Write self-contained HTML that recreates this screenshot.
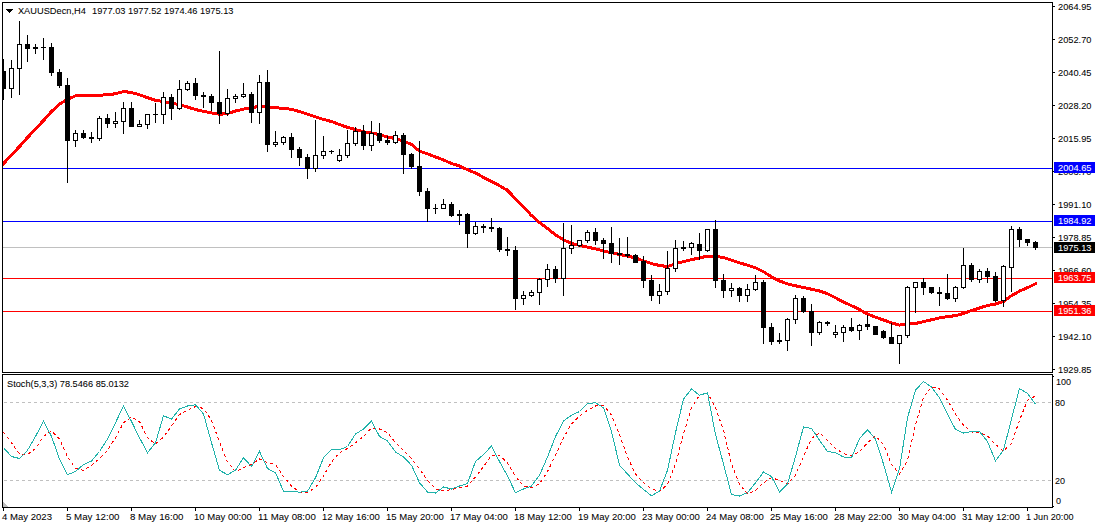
<!DOCTYPE html><html><head><meta charset="utf-8"><title>XAUUSDecn,H4</title><style>
html,body{margin:0;padding:0;background:#fff;}body{width:1098px;height:528px;overflow:hidden;position:relative;font-family:"Liberation Sans",sans-serif;}
svg{position:absolute;left:0;top:0;display:block;}text{font-family:"Liberation Sans",sans-serif;}
</style></head><body>
<svg width="1098" height="528" viewBox="0 0 1098 528">
<rect x="0" y="0" width="1098" height="528" fill="#fff"/>
<defs><clipPath id="cm"><rect x="3" y="3" width="1049" height="369"/></clipPath><clipPath id="cs"><rect x="3" y="375" width="1049" height="132"/></clipPath></defs>
<g shape-rendering="crispEdges">
<g clip-path="url(#cm)">
<rect x="3" y="168" width="1049" height="1" fill="#0000ff"/>
<rect x="3" y="221" width="1049" height="1" fill="#0000ff"/>
<rect x="3" y="247" width="1049" height="1" fill="#c0c0c0"/>
<rect x="3" y="278" width="1049" height="1" fill="#ff0000"/>
<rect x="3" y="311" width="1049" height="1" fill="#ff0000"/>
<rect x="3" y="161" width="1" height="5" fill="#ff0000"/>
<rect x="4" y="160" width="1" height="5" fill="#ff0000"/>
<rect x="5" y="159" width="1" height="5" fill="#ff0000"/>
<rect x="6" y="158" width="1" height="5" fill="#ff0000"/>
<rect x="7" y="157" width="1" height="4" fill="#ff0000"/>
<rect x="8" y="156" width="1" height="4" fill="#ff0000"/>
<rect x="9" y="155" width="1" height="4" fill="#ff0000"/>
<rect x="10" y="154" width="1" height="4" fill="#ff0000"/>
<rect x="11" y="153" width="1" height="4" fill="#ff0000"/>
<rect x="12" y="152" width="1" height="4" fill="#ff0000"/>
<rect x="13" y="151" width="1" height="4" fill="#ff0000"/>
<rect x="14" y="150" width="1" height="4" fill="#ff0000"/>
<rect x="15" y="149" width="1" height="4" fill="#ff0000"/>
<rect x="16" y="147" width="1" height="5" fill="#ff0000"/>
<rect x="17" y="146" width="1" height="5" fill="#ff0000"/>
<rect x="18" y="145" width="1" height="5" fill="#ff0000"/>
<rect x="19" y="144" width="1" height="5" fill="#ff0000"/>
<rect x="20" y="143" width="1" height="5" fill="#ff0000"/>
<rect x="21" y="142" width="1" height="5" fill="#ff0000"/>
<rect x="22" y="141" width="1" height="4" fill="#ff0000"/>
<rect x="23" y="140" width="1" height="4" fill="#ff0000"/>
<rect x="24" y="139" width="1" height="4" fill="#ff0000"/>
<rect x="25" y="137" width="1" height="5" fill="#ff0000"/>
<rect x="26" y="136" width="1" height="5" fill="#ff0000"/>
<rect x="27" y="135" width="1" height="5" fill="#ff0000"/>
<rect x="28" y="134" width="1" height="5" fill="#ff0000"/>
<rect x="29" y="133" width="1" height="5" fill="#ff0000"/>
<rect x="30" y="132" width="1" height="5" fill="#ff0000"/>
<rect x="31" y="131" width="1" height="4" fill="#ff0000"/>
<rect x="32" y="130" width="1" height="4" fill="#ff0000"/>
<rect x="33" y="129" width="1" height="4" fill="#ff0000"/>
<rect x="34" y="128" width="1" height="4" fill="#ff0000"/>
<rect x="35" y="127" width="1" height="4" fill="#ff0000"/>
<rect x="36" y="126" width="1" height="4" fill="#ff0000"/>
<rect x="37" y="125" width="1" height="4" fill="#ff0000"/>
<rect x="38" y="124" width="1" height="4" fill="#ff0000"/>
<rect x="39" y="123" width="1" height="4" fill="#ff0000"/>
<rect x="40" y="121" width="1" height="5" fill="#ff0000"/>
<rect x="41" y="120" width="1" height="5" fill="#ff0000"/>
<rect x="42" y="119" width="1" height="5" fill="#ff0000"/>
<rect x="43" y="118" width="1" height="5" fill="#ff0000"/>
<rect x="44" y="117" width="1" height="5" fill="#ff0000"/>
<rect x="45" y="116" width="1" height="5" fill="#ff0000"/>
<rect x="46" y="115" width="1" height="4" fill="#ff0000"/>
<rect x="47" y="114" width="1" height="4" fill="#ff0000"/>
<rect x="48" y="113" width="1" height="4" fill="#ff0000"/>
<rect x="49" y="111" width="1" height="5" fill="#ff0000"/>
<rect x="50" y="110" width="1" height="5" fill="#ff0000"/>
<rect x="51" y="109" width="1" height="5" fill="#ff0000"/>
<rect x="52" y="109" width="1" height="4" fill="#ff0000"/>
<rect x="53" y="108" width="1" height="4" fill="#ff0000"/>
<rect x="54" y="107" width="1" height="4" fill="#ff0000"/>
<rect x="55" y="106" width="1" height="4" fill="#ff0000"/>
<rect x="56" y="105" width="1" height="4" fill="#ff0000"/>
<rect x="57" y="104" width="1" height="4" fill="#ff0000"/>
<rect x="58" y="103" width="1" height="4" fill="#ff0000"/>
<rect x="59" y="102" width="1" height="4" fill="#ff0000"/>
<rect x="60" y="102" width="1" height="3" fill="#ff0000"/>
<rect x="61" y="101" width="1" height="4" fill="#ff0000"/>
<rect x="62" y="101" width="1" height="3" fill="#ff0000"/>
<rect x="63" y="100" width="1" height="3" fill="#ff0000"/>
<rect x="64" y="99" width="1" height="4" fill="#ff0000"/>
<rect x="65" y="99" width="1" height="3" fill="#ff0000"/>
<rect x="66" y="98" width="1" height="4" fill="#ff0000"/>
<rect x="67" y="98" width="1" height="3" fill="#ff0000"/>
<rect x="68" y="97" width="1" height="4" fill="#ff0000"/>
<rect x="69" y="97" width="1" height="3" fill="#ff0000"/>
<rect x="70" y="96" width="1" height="4" fill="#ff0000"/>
<rect x="71" y="96" width="2" height="3" fill="#ff0000"/>
<rect x="73" y="95" width="2" height="3" fill="#ff0000"/>
<rect x="75" y="94" width="28" height="3" fill="#ff0000"/>
<rect x="103" y="93" width="10" height="3" fill="#ff0000"/>
<rect x="113" y="92" width="1" height="4" fill="#ff0000"/>
<rect x="114" y="92" width="4" height="3" fill="#ff0000"/>
<rect x="118" y="91" width="4" height="3" fill="#ff0000"/>
<rect x="122" y="90" width="5" height="3" fill="#ff0000"/>
<rect x="127" y="90" width="1" height="4" fill="#ff0000"/>
<rect x="128" y="91" width="5" height="3" fill="#ff0000"/>
<rect x="133" y="92" width="4" height="3" fill="#ff0000"/>
<rect x="137" y="93" width="3" height="3" fill="#ff0000"/>
<rect x="140" y="94" width="3" height="3" fill="#ff0000"/>
<rect x="143" y="95" width="2" height="3" fill="#ff0000"/>
<rect x="145" y="95" width="1" height="4" fill="#ff0000"/>
<rect x="146" y="96" width="2" height="3" fill="#ff0000"/>
<rect x="148" y="96" width="1" height="4" fill="#ff0000"/>
<rect x="149" y="97" width="2" height="3" fill="#ff0000"/>
<rect x="151" y="97" width="1" height="4" fill="#ff0000"/>
<rect x="152" y="98" width="2" height="3" fill="#ff0000"/>
<rect x="154" y="98" width="1" height="4" fill="#ff0000"/>
<rect x="155" y="99" width="5" height="3" fill="#ff0000"/>
<rect x="160" y="100" width="6" height="3" fill="#ff0000"/>
<rect x="166" y="101" width="5" height="3" fill="#ff0000"/>
<rect x="171" y="101" width="1" height="4" fill="#ff0000"/>
<rect x="172" y="102" width="4" height="3" fill="#ff0000"/>
<rect x="176" y="103" width="4" height="3" fill="#ff0000"/>
<rect x="180" y="103" width="1" height="4" fill="#ff0000"/>
<rect x="181" y="104" width="3" height="3" fill="#ff0000"/>
<rect x="184" y="105" width="3" height="3" fill="#ff0000"/>
<rect x="187" y="105" width="1" height="4" fill="#ff0000"/>
<rect x="188" y="106" width="2" height="3" fill="#ff0000"/>
<rect x="190" y="106" width="1" height="4" fill="#ff0000"/>
<rect x="191" y="107" width="3" height="3" fill="#ff0000"/>
<rect x="194" y="108" width="3" height="3" fill="#ff0000"/>
<rect x="197" y="108" width="1" height="4" fill="#ff0000"/>
<rect x="198" y="109" width="4" height="3" fill="#ff0000"/>
<rect x="202" y="110" width="5" height="3" fill="#ff0000"/>
<rect x="207" y="111" width="5" height="3" fill="#ff0000"/>
<rect x="212" y="112" width="6" height="3" fill="#ff0000"/>
<rect x="218" y="113" width="4" height="3" fill="#ff0000"/>
<rect x="222" y="112" width="1" height="4" fill="#ff0000"/>
<rect x="223" y="112" width="6" height="3" fill="#ff0000"/>
<rect x="229" y="111" width="3" height="3" fill="#ff0000"/>
<rect x="232" y="110" width="1" height="4" fill="#ff0000"/>
<rect x="233" y="110" width="2" height="3" fill="#ff0000"/>
<rect x="235" y="109" width="1" height="4" fill="#ff0000"/>
<rect x="236" y="109" width="4" height="3" fill="#ff0000"/>
<rect x="240" y="108" width="4" height="3" fill="#ff0000"/>
<rect x="244" y="107" width="5" height="3" fill="#ff0000"/>
<rect x="249" y="106" width="6" height="3" fill="#ff0000"/>
<rect x="255" y="105" width="1" height="4" fill="#ff0000"/>
<rect x="256" y="105" width="11" height="3" fill="#ff0000"/>
<rect x="267" y="105" width="1" height="4" fill="#ff0000"/>
<rect x="268" y="106" width="11" height="3" fill="#ff0000"/>
<rect x="279" y="107" width="10" height="3" fill="#ff0000"/>
<rect x="289" y="108" width="5" height="3" fill="#ff0000"/>
<rect x="294" y="109" width="3" height="3" fill="#ff0000"/>
<rect x="297" y="109" width="1" height="4" fill="#ff0000"/>
<rect x="298" y="110" width="3" height="3" fill="#ff0000"/>
<rect x="301" y="111" width="3" height="3" fill="#ff0000"/>
<rect x="304" y="112" width="3" height="3" fill="#ff0000"/>
<rect x="307" y="113" width="3" height="3" fill="#ff0000"/>
<rect x="310" y="114" width="3" height="3" fill="#ff0000"/>
<rect x="313" y="115" width="3" height="3" fill="#ff0000"/>
<rect x="316" y="116" width="3" height="3" fill="#ff0000"/>
<rect x="319" y="117" width="3" height="3" fill="#ff0000"/>
<rect x="322" y="118" width="4" height="3" fill="#ff0000"/>
<rect x="326" y="119" width="3" height="3" fill="#ff0000"/>
<rect x="329" y="119" width="1" height="4" fill="#ff0000"/>
<rect x="330" y="120" width="3" height="3" fill="#ff0000"/>
<rect x="333" y="121" width="2" height="3" fill="#ff0000"/>
<rect x="335" y="121" width="1" height="4" fill="#ff0000"/>
<rect x="336" y="122" width="2" height="3" fill="#ff0000"/>
<rect x="338" y="123" width="3" height="3" fill="#ff0000"/>
<rect x="341" y="124" width="2" height="3" fill="#ff0000"/>
<rect x="343" y="124" width="1" height="4" fill="#ff0000"/>
<rect x="344" y="125" width="2" height="3" fill="#ff0000"/>
<rect x="346" y="125" width="1" height="4" fill="#ff0000"/>
<rect x="347" y="126" width="3" height="3" fill="#ff0000"/>
<rect x="350" y="127" width="3" height="3" fill="#ff0000"/>
<rect x="353" y="127" width="1" height="4" fill="#ff0000"/>
<rect x="354" y="128" width="3" height="3" fill="#ff0000"/>
<rect x="357" y="129" width="4" height="3" fill="#ff0000"/>
<rect x="361" y="130" width="4" height="3" fill="#ff0000"/>
<rect x="365" y="131" width="7" height="3" fill="#ff0000"/>
<rect x="372" y="132" width="4" height="3" fill="#ff0000"/>
<rect x="376" y="132" width="1" height="4" fill="#ff0000"/>
<rect x="377" y="133" width="3" height="3" fill="#ff0000"/>
<rect x="380" y="133" width="1" height="4" fill="#ff0000"/>
<rect x="381" y="134" width="3" height="3" fill="#ff0000"/>
<rect x="384" y="135" width="4" height="3" fill="#ff0000"/>
<rect x="388" y="136" width="4" height="3" fill="#ff0000"/>
<rect x="392" y="136" width="1" height="4" fill="#ff0000"/>
<rect x="393" y="137" width="3" height="3" fill="#ff0000"/>
<rect x="396" y="137" width="1" height="4" fill="#ff0000"/>
<rect x="397" y="138" width="3" height="3" fill="#ff0000"/>
<rect x="400" y="139" width="3" height="3" fill="#ff0000"/>
<rect x="403" y="139" width="1" height="4" fill="#ff0000"/>
<rect x="404" y="140" width="2" height="3" fill="#ff0000"/>
<rect x="406" y="141" width="2" height="3" fill="#ff0000"/>
<rect x="408" y="142" width="2" height="3" fill="#ff0000"/>
<rect x="410" y="142" width="1" height="4" fill="#ff0000"/>
<rect x="411" y="143" width="1" height="3" fill="#ff0000"/>
<rect x="412" y="143" width="1" height="4" fill="#ff0000"/>
<rect x="413" y="144" width="1" height="4" fill="#ff0000"/>
<rect x="414" y="145" width="1" height="4" fill="#ff0000"/>
<rect x="415" y="146" width="1" height="4" fill="#ff0000"/>
<rect x="416" y="147" width="1" height="4" fill="#ff0000"/>
<rect x="417" y="148" width="1" height="3" fill="#ff0000"/>
<rect x="418" y="148" width="1" height="4" fill="#ff0000"/>
<rect x="419" y="150" width="3" height="3" fill="#ff0000"/>
<rect x="422" y="151" width="3" height="3" fill="#ff0000"/>
<rect x="425" y="152" width="3" height="3" fill="#ff0000"/>
<rect x="428" y="153" width="2" height="3" fill="#ff0000"/>
<rect x="430" y="153" width="1" height="4" fill="#ff0000"/>
<rect x="431" y="154" width="2" height="3" fill="#ff0000"/>
<rect x="433" y="155" width="2" height="3" fill="#ff0000"/>
<rect x="435" y="155" width="1" height="4" fill="#ff0000"/>
<rect x="436" y="156" width="2" height="3" fill="#ff0000"/>
<rect x="438" y="156" width="1" height="4" fill="#ff0000"/>
<rect x="439" y="157" width="2" height="3" fill="#ff0000"/>
<rect x="441" y="158" width="2" height="3" fill="#ff0000"/>
<rect x="443" y="158" width="1" height="4" fill="#ff0000"/>
<rect x="444" y="159" width="2" height="3" fill="#ff0000"/>
<rect x="446" y="160" width="2" height="3" fill="#ff0000"/>
<rect x="448" y="161" width="2" height="3" fill="#ff0000"/>
<rect x="450" y="161" width="1" height="4" fill="#ff0000"/>
<rect x="451" y="162" width="2" height="3" fill="#ff0000"/>
<rect x="453" y="163" width="3" height="3" fill="#ff0000"/>
<rect x="456" y="163" width="1" height="4" fill="#ff0000"/>
<rect x="457" y="164" width="2" height="3" fill="#ff0000"/>
<rect x="459" y="164" width="1" height="4" fill="#ff0000"/>
<rect x="460" y="165" width="1" height="3" fill="#ff0000"/>
<rect x="461" y="165" width="1" height="4" fill="#ff0000"/>
<rect x="462" y="166" width="1" height="3" fill="#ff0000"/>
<rect x="463" y="166" width="1" height="4" fill="#ff0000"/>
<rect x="464" y="167" width="2" height="3" fill="#ff0000"/>
<rect x="466" y="168" width="2" height="3" fill="#ff0000"/>
<rect x="468" y="168" width="1" height="4" fill="#ff0000"/>
<rect x="469" y="169" width="1" height="3" fill="#ff0000"/>
<rect x="470" y="169" width="1" height="4" fill="#ff0000"/>
<rect x="471" y="170" width="2" height="3" fill="#ff0000"/>
<rect x="473" y="171" width="2" height="3" fill="#ff0000"/>
<rect x="475" y="171" width="1" height="4" fill="#ff0000"/>
<rect x="476" y="172" width="1" height="3" fill="#ff0000"/>
<rect x="477" y="172" width="1" height="4" fill="#ff0000"/>
<rect x="478" y="173" width="1" height="3" fill="#ff0000"/>
<rect x="479" y="173" width="1" height="4" fill="#ff0000"/>
<rect x="480" y="174" width="1" height="3" fill="#ff0000"/>
<rect x="481" y="175" width="1" height="3" fill="#ff0000"/>
<rect x="482" y="175" width="1" height="4" fill="#ff0000"/>
<rect x="483" y="176" width="1" height="3" fill="#ff0000"/>
<rect x="484" y="176" width="1" height="4" fill="#ff0000"/>
<rect x="485" y="177" width="1" height="3" fill="#ff0000"/>
<rect x="486" y="177" width="1" height="4" fill="#ff0000"/>
<rect x="487" y="178" width="1" height="3" fill="#ff0000"/>
<rect x="488" y="178" width="1" height="4" fill="#ff0000"/>
<rect x="489" y="179" width="1" height="3" fill="#ff0000"/>
<rect x="490" y="179" width="1" height="4" fill="#ff0000"/>
<rect x="491" y="180" width="1" height="3" fill="#ff0000"/>
<rect x="492" y="180" width="1" height="4" fill="#ff0000"/>
<rect x="493" y="181" width="1" height="3" fill="#ff0000"/>
<rect x="494" y="181" width="1" height="4" fill="#ff0000"/>
<rect x="495" y="182" width="1" height="3" fill="#ff0000"/>
<rect x="496" y="182" width="1" height="4" fill="#ff0000"/>
<rect x="497" y="183" width="1" height="3" fill="#ff0000"/>
<rect x="498" y="183" width="1" height="4" fill="#ff0000"/>
<rect x="499" y="184" width="1" height="3" fill="#ff0000"/>
<rect x="500" y="185" width="1" height="3" fill="#ff0000"/>
<rect x="501" y="185" width="1" height="4" fill="#ff0000"/>
<rect x="502" y="186" width="1" height="3" fill="#ff0000"/>
<rect x="503" y="186" width="1" height="4" fill="#ff0000"/>
<rect x="504" y="187" width="1" height="3" fill="#ff0000"/>
<rect x="505" y="188" width="1" height="3" fill="#ff0000"/>
<rect x="506" y="188" width="1" height="4" fill="#ff0000"/>
<rect x="507" y="188" width="1" height="5" fill="#ff0000"/>
<rect x="508" y="189" width="1" height="5" fill="#ff0000"/>
<rect x="509" y="190" width="1" height="5" fill="#ff0000"/>
<rect x="510" y="191" width="1" height="5" fill="#ff0000"/>
<rect x="511" y="192" width="1" height="5" fill="#ff0000"/>
<rect x="512" y="193" width="1" height="5" fill="#ff0000"/>
<rect x="513" y="195" width="1" height="4" fill="#ff0000"/>
<rect x="514" y="196" width="1" height="4" fill="#ff0000"/>
<rect x="515" y="197" width="1" height="4" fill="#ff0000"/>
<rect x="516" y="198" width="1" height="4" fill="#ff0000"/>
<rect x="517" y="199" width="1" height="4" fill="#ff0000"/>
<rect x="518" y="200" width="1" height="4" fill="#ff0000"/>
<rect x="519" y="201" width="1" height="4" fill="#ff0000"/>
<rect x="520" y="202" width="1" height="4" fill="#ff0000"/>
<rect x="521" y="203" width="1" height="4" fill="#ff0000"/>
<rect x="522" y="204" width="1" height="4" fill="#ff0000"/>
<rect x="523" y="205" width="1" height="4" fill="#ff0000"/>
<rect x="524" y="206" width="1" height="4" fill="#ff0000"/>
<rect x="525" y="207" width="1" height="4" fill="#ff0000"/>
<rect x="526" y="208" width="1" height="4" fill="#ff0000"/>
<rect x="527" y="209" width="1" height="4" fill="#ff0000"/>
<rect x="528" y="210" width="1" height="4" fill="#ff0000"/>
<rect x="529" y="211" width="1" height="5" fill="#ff0000"/>
<rect x="530" y="212" width="1" height="5" fill="#ff0000"/>
<rect x="531" y="214" width="1" height="3" fill="#ff0000"/>
<rect x="532" y="214" width="1" height="4" fill="#ff0000"/>
<rect x="533" y="215" width="1" height="4" fill="#ff0000"/>
<rect x="534" y="216" width="1" height="4" fill="#ff0000"/>
<rect x="535" y="217" width="1" height="4" fill="#ff0000"/>
<rect x="536" y="218" width="1" height="4" fill="#ff0000"/>
<rect x="537" y="219" width="1" height="4" fill="#ff0000"/>
<rect x="538" y="220" width="1" height="4" fill="#ff0000"/>
<rect x="539" y="221" width="1" height="3" fill="#ff0000"/>
<rect x="540" y="221" width="1" height="4" fill="#ff0000"/>
<rect x="541" y="222" width="1" height="4" fill="#ff0000"/>
<rect x="542" y="223" width="1" height="4" fill="#ff0000"/>
<rect x="543" y="224" width="1" height="3" fill="#ff0000"/>
<rect x="544" y="224" width="1" height="4" fill="#ff0000"/>
<rect x="545" y="225" width="1" height="4" fill="#ff0000"/>
<rect x="546" y="226" width="1" height="4" fill="#ff0000"/>
<rect x="547" y="227" width="1" height="3" fill="#ff0000"/>
<rect x="548" y="227" width="1" height="4" fill="#ff0000"/>
<rect x="549" y="228" width="1" height="4" fill="#ff0000"/>
<rect x="550" y="229" width="1" height="4" fill="#ff0000"/>
<rect x="551" y="230" width="1" height="4" fill="#ff0000"/>
<rect x="552" y="231" width="1" height="3" fill="#ff0000"/>
<rect x="553" y="231" width="1" height="4" fill="#ff0000"/>
<rect x="554" y="232" width="1" height="4" fill="#ff0000"/>
<rect x="555" y="233" width="1" height="4" fill="#ff0000"/>
<rect x="556" y="234" width="1" height="3" fill="#ff0000"/>
<rect x="557" y="234" width="1" height="4" fill="#ff0000"/>
<rect x="558" y="235" width="1" height="3" fill="#ff0000"/>
<rect x="559" y="236" width="1" height="3" fill="#ff0000"/>
<rect x="560" y="236" width="1" height="4" fill="#ff0000"/>
<rect x="561" y="237" width="1" height="3" fill="#ff0000"/>
<rect x="562" y="237" width="1" height="4" fill="#ff0000"/>
<rect x="563" y="238" width="1" height="3" fill="#ff0000"/>
<rect x="564" y="239" width="2" height="3" fill="#ff0000"/>
<rect x="566" y="240" width="2" height="3" fill="#ff0000"/>
<rect x="568" y="240" width="1" height="4" fill="#ff0000"/>
<rect x="569" y="241" width="1" height="3" fill="#ff0000"/>
<rect x="570" y="241" width="1" height="4" fill="#ff0000"/>
<rect x="571" y="242" width="3" height="3" fill="#ff0000"/>
<rect x="574" y="243" width="4" height="3" fill="#ff0000"/>
<rect x="578" y="244" width="4" height="3" fill="#ff0000"/>
<rect x="582" y="244" width="1" height="4" fill="#ff0000"/>
<rect x="583" y="245" width="4" height="3" fill="#ff0000"/>
<rect x="587" y="246" width="4" height="3" fill="#ff0000"/>
<rect x="591" y="246" width="1" height="4" fill="#ff0000"/>
<rect x="592" y="247" width="4" height="3" fill="#ff0000"/>
<rect x="596" y="248" width="4" height="3" fill="#ff0000"/>
<rect x="600" y="249" width="4" height="3" fill="#ff0000"/>
<rect x="604" y="250" width="4" height="3" fill="#ff0000"/>
<rect x="608" y="251" width="5" height="3" fill="#ff0000"/>
<rect x="613" y="252" width="4" height="3" fill="#ff0000"/>
<rect x="617" y="252" width="1" height="4" fill="#ff0000"/>
<rect x="618" y="253" width="4" height="3" fill="#ff0000"/>
<rect x="622" y="253" width="1" height="4" fill="#ff0000"/>
<rect x="623" y="254" width="4" height="3" fill="#ff0000"/>
<rect x="627" y="254" width="1" height="4" fill="#ff0000"/>
<rect x="628" y="255" width="3" height="3" fill="#ff0000"/>
<rect x="631" y="255" width="1" height="4" fill="#ff0000"/>
<rect x="632" y="256" width="3" height="3" fill="#ff0000"/>
<rect x="635" y="256" width="1" height="4" fill="#ff0000"/>
<rect x="636" y="257" width="2" height="3" fill="#ff0000"/>
<rect x="638" y="257" width="1" height="4" fill="#ff0000"/>
<rect x="639" y="258" width="2" height="3" fill="#ff0000"/>
<rect x="641" y="259" width="3" height="3" fill="#ff0000"/>
<rect x="644" y="260" width="3" height="3" fill="#ff0000"/>
<rect x="647" y="261" width="3" height="3" fill="#ff0000"/>
<rect x="650" y="262" width="3" height="3" fill="#ff0000"/>
<rect x="653" y="263" width="4" height="3" fill="#ff0000"/>
<rect x="657" y="263" width="1" height="4" fill="#ff0000"/>
<rect x="658" y="264" width="5" height="3" fill="#ff0000"/>
<rect x="663" y="264" width="1" height="4" fill="#ff0000"/>
<rect x="664" y="265" width="5" height="3" fill="#ff0000"/>
<rect x="669" y="264" width="3" height="3" fill="#ff0000"/>
<rect x="672" y="263" width="3" height="3" fill="#ff0000"/>
<rect x="675" y="262" width="3" height="3" fill="#ff0000"/>
<rect x="678" y="261" width="4" height="3" fill="#ff0000"/>
<rect x="682" y="260" width="4" height="3" fill="#ff0000"/>
<rect x="686" y="259" width="4" height="3" fill="#ff0000"/>
<rect x="690" y="258" width="4" height="3" fill="#ff0000"/>
<rect x="694" y="257" width="1" height="4" fill="#ff0000"/>
<rect x="695" y="257" width="4" height="3" fill="#ff0000"/>
<rect x="699" y="256" width="4" height="3" fill="#ff0000"/>
<rect x="703" y="255" width="1" height="4" fill="#ff0000"/>
<rect x="704" y="255" width="16" height="3" fill="#ff0000"/>
<rect x="720" y="256" width="5" height="3" fill="#ff0000"/>
<rect x="725" y="257" width="3" height="3" fill="#ff0000"/>
<rect x="728" y="258" width="3" height="3" fill="#ff0000"/>
<rect x="731" y="259" width="3" height="3" fill="#ff0000"/>
<rect x="734" y="260" width="3" height="3" fill="#ff0000"/>
<rect x="737" y="261" width="3" height="3" fill="#ff0000"/>
<rect x="740" y="262" width="3" height="3" fill="#ff0000"/>
<rect x="743" y="262" width="1" height="4" fill="#ff0000"/>
<rect x="744" y="263" width="3" height="3" fill="#ff0000"/>
<rect x="747" y="264" width="3" height="3" fill="#ff0000"/>
<rect x="750" y="265" width="3" height="3" fill="#ff0000"/>
<rect x="753" y="266" width="3" height="3" fill="#ff0000"/>
<rect x="756" y="267" width="2" height="3" fill="#ff0000"/>
<rect x="758" y="268" width="2" height="3" fill="#ff0000"/>
<rect x="760" y="269" width="2" height="3" fill="#ff0000"/>
<rect x="762" y="270" width="2" height="3" fill="#ff0000"/>
<rect x="764" y="271" width="1" height="3" fill="#ff0000"/>
<rect x="765" y="271" width="1" height="4" fill="#ff0000"/>
<rect x="766" y="272" width="1" height="3" fill="#ff0000"/>
<rect x="767" y="273" width="1" height="3" fill="#ff0000"/>
<rect x="768" y="273" width="1" height="4" fill="#ff0000"/>
<rect x="769" y="274" width="1" height="3" fill="#ff0000"/>
<rect x="770" y="274" width="1" height="4" fill="#ff0000"/>
<rect x="771" y="275" width="1" height="4" fill="#ff0000"/>
<rect x="772" y="276" width="1" height="3" fill="#ff0000"/>
<rect x="773" y="276" width="1" height="4" fill="#ff0000"/>
<rect x="774" y="277" width="1" height="3" fill="#ff0000"/>
<rect x="775" y="277" width="1" height="4" fill="#ff0000"/>
<rect x="776" y="278" width="1" height="3" fill="#ff0000"/>
<rect x="777" y="278" width="1" height="4" fill="#ff0000"/>
<rect x="778" y="279" width="1" height="3" fill="#ff0000"/>
<rect x="779" y="279" width="1" height="4" fill="#ff0000"/>
<rect x="780" y="280" width="2" height="3" fill="#ff0000"/>
<rect x="782" y="280" width="1" height="4" fill="#ff0000"/>
<rect x="783" y="281" width="2" height="3" fill="#ff0000"/>
<rect x="785" y="282" width="3" height="3" fill="#ff0000"/>
<rect x="788" y="283" width="4" height="3" fill="#ff0000"/>
<rect x="792" y="284" width="4" height="3" fill="#ff0000"/>
<rect x="796" y="284" width="1" height="4" fill="#ff0000"/>
<rect x="797" y="285" width="4" height="3" fill="#ff0000"/>
<rect x="801" y="286" width="5" height="3" fill="#ff0000"/>
<rect x="806" y="287" width="4" height="3" fill="#ff0000"/>
<rect x="810" y="287" width="1" height="4" fill="#ff0000"/>
<rect x="811" y="288" width="4" height="3" fill="#ff0000"/>
<rect x="815" y="289" width="4" height="3" fill="#ff0000"/>
<rect x="819" y="289" width="1" height="4" fill="#ff0000"/>
<rect x="820" y="290" width="2" height="3" fill="#ff0000"/>
<rect x="822" y="290" width="1" height="4" fill="#ff0000"/>
<rect x="823" y="291" width="2" height="3" fill="#ff0000"/>
<rect x="825" y="291" width="1" height="4" fill="#ff0000"/>
<rect x="826" y="292" width="2" height="3" fill="#ff0000"/>
<rect x="828" y="293" width="2" height="3" fill="#ff0000"/>
<rect x="830" y="294" width="2" height="3" fill="#ff0000"/>
<rect x="832" y="295" width="2" height="3" fill="#ff0000"/>
<rect x="834" y="296" width="2" height="3" fill="#ff0000"/>
<rect x="836" y="297" width="1" height="3" fill="#ff0000"/>
<rect x="837" y="297" width="1" height="4" fill="#ff0000"/>
<rect x="838" y="298" width="1" height="3" fill="#ff0000"/>
<rect x="839" y="298" width="1" height="4" fill="#ff0000"/>
<rect x="840" y="299" width="1" height="3" fill="#ff0000"/>
<rect x="841" y="299" width="1" height="4" fill="#ff0000"/>
<rect x="842" y="300" width="1" height="3" fill="#ff0000"/>
<rect x="843" y="300" width="1" height="4" fill="#ff0000"/>
<rect x="844" y="301" width="1" height="3" fill="#ff0000"/>
<rect x="845" y="301" width="1" height="4" fill="#ff0000"/>
<rect x="846" y="302" width="2" height="3" fill="#ff0000"/>
<rect x="848" y="303" width="2" height="3" fill="#ff0000"/>
<rect x="850" y="304" width="2" height="3" fill="#ff0000"/>
<rect x="852" y="305" width="2" height="3" fill="#ff0000"/>
<rect x="854" y="305" width="1" height="4" fill="#ff0000"/>
<rect x="855" y="306" width="1" height="3" fill="#ff0000"/>
<rect x="856" y="306" width="1" height="4" fill="#ff0000"/>
<rect x="857" y="307" width="1" height="3" fill="#ff0000"/>
<rect x="858" y="307" width="1" height="4" fill="#ff0000"/>
<rect x="859" y="308" width="1" height="3" fill="#ff0000"/>
<rect x="860" y="308" width="1" height="4" fill="#ff0000"/>
<rect x="861" y="309" width="1" height="3" fill="#ff0000"/>
<rect x="862" y="310" width="1" height="3" fill="#ff0000"/>
<rect x="863" y="310" width="1" height="4" fill="#ff0000"/>
<rect x="864" y="311" width="1" height="3" fill="#ff0000"/>
<rect x="865" y="311" width="1" height="4" fill="#ff0000"/>
<rect x="866" y="312" width="1" height="3" fill="#ff0000"/>
<rect x="867" y="312" width="1" height="4" fill="#ff0000"/>
<rect x="868" y="313" width="2" height="3" fill="#ff0000"/>
<rect x="870" y="314" width="2" height="3" fill="#ff0000"/>
<rect x="872" y="314" width="1" height="4" fill="#ff0000"/>
<rect x="873" y="315" width="2" height="3" fill="#ff0000"/>
<rect x="875" y="316" width="3" height="3" fill="#ff0000"/>
<rect x="878" y="317" width="2" height="3" fill="#ff0000"/>
<rect x="880" y="317" width="1" height="4" fill="#ff0000"/>
<rect x="881" y="318" width="2" height="3" fill="#ff0000"/>
<rect x="883" y="318" width="1" height="4" fill="#ff0000"/>
<rect x="884" y="319" width="2" height="3" fill="#ff0000"/>
<rect x="886" y="319" width="1" height="4" fill="#ff0000"/>
<rect x="887" y="320" width="2" height="3" fill="#ff0000"/>
<rect x="889" y="321" width="3" height="3" fill="#ff0000"/>
<rect x="892" y="322" width="3" height="3" fill="#ff0000"/>
<rect x="895" y="322" width="1" height="4" fill="#ff0000"/>
<rect x="896" y="323" width="3" height="3" fill="#ff0000"/>
<rect x="899" y="324" width="1" height="3" fill="#ff0000"/>
<rect x="900" y="323" width="9" height="3" fill="#ff0000"/>
<rect x="909" y="322" width="8" height="3" fill="#ff0000"/>
<rect x="917" y="321" width="1" height="4" fill="#ff0000"/>
<rect x="918" y="321" width="4" height="3" fill="#ff0000"/>
<rect x="922" y="320" width="4" height="3" fill="#ff0000"/>
<rect x="926" y="319" width="4" height="3" fill="#ff0000"/>
<rect x="930" y="318" width="1" height="4" fill="#ff0000"/>
<rect x="931" y="318" width="4" height="3" fill="#ff0000"/>
<rect x="935" y="317" width="4" height="3" fill="#ff0000"/>
<rect x="939" y="316" width="6" height="3" fill="#ff0000"/>
<rect x="945" y="315" width="7" height="3" fill="#ff0000"/>
<rect x="952" y="314" width="1" height="4" fill="#ff0000"/>
<rect x="953" y="314" width="5" height="3" fill="#ff0000"/>
<rect x="958" y="313" width="3" height="3" fill="#ff0000"/>
<rect x="961" y="312" width="1" height="4" fill="#ff0000"/>
<rect x="962" y="312" width="3" height="3" fill="#ff0000"/>
<rect x="965" y="311" width="2" height="3" fill="#ff0000"/>
<rect x="967" y="310" width="1" height="4" fill="#ff0000"/>
<rect x="968" y="310" width="2" height="3" fill="#ff0000"/>
<rect x="970" y="309" width="3" height="3" fill="#ff0000"/>
<rect x="973" y="308" width="3" height="3" fill="#ff0000"/>
<rect x="976" y="307" width="1" height="4" fill="#ff0000"/>
<rect x="977" y="307" width="2" height="3" fill="#ff0000"/>
<rect x="979" y="306" width="1" height="4" fill="#ff0000"/>
<rect x="980" y="306" width="2" height="3" fill="#ff0000"/>
<rect x="982" y="305" width="1" height="4" fill="#ff0000"/>
<rect x="983" y="305" width="3" height="3" fill="#ff0000"/>
<rect x="986" y="304" width="4" height="3" fill="#ff0000"/>
<rect x="990" y="303" width="5" height="3" fill="#ff0000"/>
<rect x="995" y="302" width="1" height="4" fill="#ff0000"/>
<rect x="996" y="302" width="2" height="3" fill="#ff0000"/>
<rect x="998" y="301" width="1" height="4" fill="#ff0000"/>
<rect x="999" y="301" width="3" height="3" fill="#ff0000"/>
<rect x="1002" y="300" width="2" height="3" fill="#ff0000"/>
<rect x="1004" y="299" width="1" height="4" fill="#ff0000"/>
<rect x="1005" y="298" width="1" height="4" fill="#ff0000"/>
<rect x="1006" y="297" width="1" height="4" fill="#ff0000"/>
<rect x="1007" y="297" width="1" height="3" fill="#ff0000"/>
<rect x="1008" y="296" width="1" height="4" fill="#ff0000"/>
<rect x="1009" y="295" width="1" height="4" fill="#ff0000"/>
<rect x="1010" y="295" width="1" height="3" fill="#ff0000"/>
<rect x="1011" y="294" width="1" height="3" fill="#ff0000"/>
<rect x="1012" y="293" width="1" height="4" fill="#ff0000"/>
<rect x="1013" y="293" width="1" height="3" fill="#ff0000"/>
<rect x="1014" y="292" width="1" height="4" fill="#ff0000"/>
<rect x="1015" y="292" width="1" height="3" fill="#ff0000"/>
<rect x="1016" y="291" width="1" height="4" fill="#ff0000"/>
<rect x="1017" y="291" width="1" height="3" fill="#ff0000"/>
<rect x="1018" y="290" width="1" height="3" fill="#ff0000"/>
<rect x="1019" y="289" width="1" height="4" fill="#ff0000"/>
<rect x="1020" y="289" width="2" height="3" fill="#ff0000"/>
<rect x="1022" y="288" width="2" height="3" fill="#ff0000"/>
<rect x="1024" y="287" width="1" height="4" fill="#ff0000"/>
<rect x="1025" y="287" width="1" height="3" fill="#ff0000"/>
<rect x="1026" y="286" width="1" height="4" fill="#ff0000"/>
<rect x="1027" y="286" width="2" height="3" fill="#ff0000"/>
<rect x="1029" y="285" width="2" height="3" fill="#ff0000"/>
<rect x="1031" y="284" width="2" height="3" fill="#ff0000"/>
<rect x="1033" y="283" width="2" height="3" fill="#ff0000"/>
<rect x="1035" y="282" width="2" height="3" fill="#ff0000"/>
<rect x="3" y="59" width="1" height="41" fill="#000"/>
<rect x="1" y="71" width="5" height="18" fill="#000"/>
<rect x="11" y="60" width="1" height="38" fill="#000"/>
<rect x="9" y="68" width="5" height="21" fill="#000"/>
<rect x="10" y="69" width="3" height="19" fill="#fff"/>
<rect x="19" y="21" width="1" height="74" fill="#000"/>
<rect x="17" y="44" width="5" height="25" fill="#000"/>
<rect x="18" y="45" width="3" height="23" fill="#fff"/>
<rect x="27" y="35" width="1" height="27" fill="#000"/>
<rect x="25" y="44" width="5" height="5" fill="#000"/>
<rect x="35" y="44" width="1" height="10" fill="#000"/>
<rect x="33" y="47" width="5" height="2" fill="#000"/>
<rect x="43" y="38" width="1" height="22" fill="#000"/>
<rect x="41" y="47" width="5" height="1" fill="#000"/>
<rect x="51" y="43" width="1" height="33" fill="#000"/>
<rect x="49" y="47" width="5" height="26" fill="#000"/>
<rect x="59" y="69" width="1" height="19" fill="#000"/>
<rect x="57" y="72" width="5" height="14" fill="#000"/>
<rect x="67" y="78" width="1" height="105" fill="#000"/>
<rect x="65" y="85" width="5" height="56" fill="#000"/>
<rect x="75" y="130" width="1" height="17" fill="#000"/>
<rect x="73" y="133" width="5" height="8" fill="#000"/>
<rect x="74" y="134" width="3" height="6" fill="#fff"/>
<rect x="83" y="130" width="1" height="9" fill="#000"/>
<rect x="81" y="133" width="5" height="5" fill="#000"/>
<rect x="91" y="132" width="1" height="11" fill="#000"/>
<rect x="89" y="137" width="5" height="2" fill="#000"/>
<rect x="99" y="116" width="1" height="25" fill="#000"/>
<rect x="97" y="118" width="5" height="21" fill="#000"/>
<rect x="98" y="119" width="3" height="19" fill="#fff"/>
<rect x="107" y="114" width="1" height="14" fill="#000"/>
<rect x="105" y="118" width="5" height="6" fill="#000"/>
<rect x="115" y="112" width="1" height="16" fill="#000"/>
<rect x="113" y="121" width="5" height="3" fill="#000"/>
<rect x="114" y="122" width="3" height="1" fill="#fff"/>
<rect x="123" y="102" width="1" height="32" fill="#000"/>
<rect x="121" y="108" width="5" height="14" fill="#000"/>
<rect x="122" y="109" width="3" height="12" fill="#fff"/>
<rect x="131" y="102" width="1" height="25" fill="#000"/>
<rect x="129" y="108" width="5" height="19" fill="#000"/>
<rect x="139" y="120" width="1" height="7" fill="#000"/>
<rect x="137" y="124" width="5" height="3" fill="#000"/>
<rect x="138" y="125" width="3" height="1" fill="#fff"/>
<rect x="147" y="114" width="1" height="15" fill="#000"/>
<rect x="145" y="114" width="5" height="11" fill="#000"/>
<rect x="146" y="115" width="3" height="9" fill="#fff"/>
<rect x="155" y="103" width="1" height="20" fill="#000"/>
<rect x="153" y="114" width="5" height="1" fill="#000"/>
<rect x="163" y="92" width="1" height="32" fill="#000"/>
<rect x="161" y="97" width="5" height="18" fill="#000"/>
<rect x="162" y="98" width="3" height="16" fill="#fff"/>
<rect x="171" y="94" width="1" height="26" fill="#000"/>
<rect x="169" y="97" width="5" height="12" fill="#000"/>
<rect x="179" y="80" width="1" height="30" fill="#000"/>
<rect x="177" y="89" width="5" height="20" fill="#000"/>
<rect x="178" y="90" width="3" height="18" fill="#fff"/>
<rect x="187" y="81" width="1" height="10" fill="#000"/>
<rect x="185" y="83" width="5" height="7" fill="#000"/>
<rect x="186" y="84" width="3" height="5" fill="#fff"/>
<rect x="195" y="78" width="1" height="22" fill="#000"/>
<rect x="193" y="83" width="5" height="13" fill="#000"/>
<rect x="203" y="92" width="1" height="16" fill="#000"/>
<rect x="201" y="95" width="5" height="2" fill="#000"/>
<rect x="211" y="94" width="1" height="17" fill="#000"/>
<rect x="209" y="96" width="5" height="7" fill="#000"/>
<rect x="219" y="51" width="1" height="73" fill="#000"/>
<rect x="217" y="102" width="5" height="12" fill="#000"/>
<rect x="227" y="89" width="1" height="27" fill="#000"/>
<rect x="225" y="98" width="5" height="16" fill="#000"/>
<rect x="226" y="99" width="3" height="14" fill="#fff"/>
<rect x="235" y="94" width="1" height="9" fill="#000"/>
<rect x="233" y="96" width="5" height="3" fill="#000"/>
<rect x="234" y="97" width="3" height="1" fill="#fff"/>
<rect x="243" y="83" width="1" height="15" fill="#000"/>
<rect x="241" y="94" width="5" height="3" fill="#000"/>
<rect x="242" y="95" width="3" height="1" fill="#fff"/>
<rect x="251" y="92" width="1" height="31" fill="#000"/>
<rect x="249" y="94" width="5" height="19" fill="#000"/>
<rect x="259" y="75" width="1" height="49" fill="#000"/>
<rect x="257" y="82" width="5" height="31" fill="#000"/>
<rect x="258" y="83" width="3" height="29" fill="#fff"/>
<rect x="267" y="70" width="1" height="82" fill="#000"/>
<rect x="265" y="82" width="5" height="63" fill="#000"/>
<rect x="275" y="131" width="1" height="16" fill="#000"/>
<rect x="273" y="142" width="5" height="3" fill="#000"/>
<rect x="274" y="143" width="3" height="1" fill="#fff"/>
<rect x="283" y="136" width="1" height="9" fill="#000"/>
<rect x="281" y="137" width="5" height="6" fill="#000"/>
<rect x="282" y="138" width="3" height="4" fill="#fff"/>
<rect x="291" y="133" width="1" height="25" fill="#000"/>
<rect x="289" y="137" width="5" height="13" fill="#000"/>
<rect x="299" y="147" width="1" height="19" fill="#000"/>
<rect x="297" y="149" width="5" height="9" fill="#000"/>
<rect x="307" y="154" width="1" height="25" fill="#000"/>
<rect x="305" y="157" width="5" height="12" fill="#000"/>
<rect x="315" y="120" width="1" height="52" fill="#000"/>
<rect x="313" y="155" width="5" height="14" fill="#000"/>
<rect x="314" y="156" width="3" height="12" fill="#fff"/>
<rect x="323" y="136" width="1" height="23" fill="#000"/>
<rect x="321" y="151" width="5" height="5" fill="#000"/>
<rect x="322" y="152" width="3" height="3" fill="#fff"/>
<rect x="331" y="150" width="1" height="4" fill="#000"/>
<rect x="329" y="151" width="5" height="1" fill="#000"/>
<rect x="339" y="149" width="1" height="13" fill="#000"/>
<rect x="337" y="155" width="5" height="6" fill="#000"/>
<rect x="338" y="156" width="3" height="4" fill="#fff"/>
<rect x="347" y="130" width="1" height="28" fill="#000"/>
<rect x="345" y="143" width="5" height="13" fill="#000"/>
<rect x="346" y="144" width="3" height="11" fill="#fff"/>
<rect x="355" y="127" width="1" height="19" fill="#000"/>
<rect x="353" y="131" width="5" height="13" fill="#000"/>
<rect x="354" y="132" width="3" height="11" fill="#fff"/>
<rect x="363" y="125" width="1" height="25" fill="#000"/>
<rect x="361" y="131" width="5" height="15" fill="#000"/>
<rect x="371" y="121" width="1" height="30" fill="#000"/>
<rect x="369" y="133" width="5" height="13" fill="#000"/>
<rect x="370" y="134" width="3" height="11" fill="#fff"/>
<rect x="379" y="123" width="1" height="20" fill="#000"/>
<rect x="377" y="133" width="5" height="8" fill="#000"/>
<rect x="387" y="136" width="1" height="9" fill="#000"/>
<rect x="385" y="140" width="5" height="3" fill="#000"/>
<rect x="395" y="131" width="1" height="13" fill="#000"/>
<rect x="393" y="135" width="5" height="8" fill="#000"/>
<rect x="394" y="136" width="3" height="6" fill="#fff"/>
<rect x="403" y="133" width="1" height="41" fill="#000"/>
<rect x="401" y="135" width="5" height="20" fill="#000"/>
<rect x="411" y="153" width="1" height="16" fill="#000"/>
<rect x="409" y="154" width="5" height="13" fill="#000"/>
<rect x="419" y="141" width="1" height="55" fill="#000"/>
<rect x="417" y="166" width="5" height="26" fill="#000"/>
<rect x="427" y="188" width="1" height="34" fill="#000"/>
<rect x="425" y="191" width="5" height="18" fill="#000"/>
<rect x="435" y="204" width="1" height="10" fill="#000"/>
<rect x="433" y="208" width="5" height="1" fill="#000"/>
<rect x="443" y="199" width="1" height="10" fill="#000"/>
<rect x="441" y="204" width="5" height="5" fill="#000"/>
<rect x="442" y="205" width="3" height="3" fill="#fff"/>
<rect x="451" y="202" width="1" height="15" fill="#000"/>
<rect x="449" y="204" width="5" height="12" fill="#000"/>
<rect x="459" y="210" width="1" height="15" fill="#000"/>
<rect x="457" y="214" width="5" height="2" fill="#000"/>
<rect x="467" y="213" width="1" height="35" fill="#000"/>
<rect x="465" y="214" width="5" height="20" fill="#000"/>
<rect x="475" y="222" width="1" height="13" fill="#000"/>
<rect x="473" y="226" width="5" height="8" fill="#000"/>
<rect x="474" y="227" width="3" height="6" fill="#fff"/>
<rect x="483" y="224" width="1" height="9" fill="#000"/>
<rect x="481" y="226" width="5" height="2" fill="#000"/>
<rect x="491" y="218" width="1" height="14" fill="#000"/>
<rect x="489" y="227" width="5" height="2" fill="#000"/>
<rect x="499" y="227" width="1" height="25" fill="#000"/>
<rect x="497" y="228" width="5" height="22" fill="#000"/>
<rect x="507" y="237" width="1" height="19" fill="#000"/>
<rect x="505" y="249" width="5" height="2" fill="#000"/>
<rect x="515" y="246" width="1" height="64" fill="#000"/>
<rect x="513" y="250" width="5" height="49" fill="#000"/>
<rect x="523" y="291" width="1" height="14" fill="#000"/>
<rect x="521" y="295" width="5" height="4" fill="#000"/>
<rect x="522" y="296" width="3" height="2" fill="#fff"/>
<rect x="531" y="290" width="1" height="7" fill="#000"/>
<rect x="529" y="292" width="5" height="4" fill="#000"/>
<rect x="530" y="293" width="3" height="2" fill="#fff"/>
<rect x="539" y="278" width="1" height="27" fill="#000"/>
<rect x="537" y="279" width="5" height="14" fill="#000"/>
<rect x="538" y="280" width="3" height="12" fill="#fff"/>
<rect x="547" y="264" width="1" height="23" fill="#000"/>
<rect x="545" y="269" width="5" height="11" fill="#000"/>
<rect x="546" y="270" width="3" height="9" fill="#fff"/>
<rect x="555" y="266" width="1" height="17" fill="#000"/>
<rect x="553" y="269" width="5" height="10" fill="#000"/>
<rect x="563" y="223" width="1" height="73" fill="#000"/>
<rect x="561" y="248" width="5" height="31" fill="#000"/>
<rect x="562" y="249" width="3" height="29" fill="#fff"/>
<rect x="571" y="225" width="1" height="29" fill="#000"/>
<rect x="569" y="245" width="5" height="4" fill="#000"/>
<rect x="570" y="246" width="3" height="2" fill="#fff"/>
<rect x="579" y="240" width="1" height="7" fill="#000"/>
<rect x="577" y="240" width="5" height="6" fill="#000"/>
<rect x="578" y="241" width="3" height="4" fill="#fff"/>
<rect x="587" y="230" width="1" height="13" fill="#000"/>
<rect x="585" y="232" width="5" height="9" fill="#000"/>
<rect x="586" y="233" width="3" height="7" fill="#fff"/>
<rect x="595" y="228" width="1" height="17" fill="#000"/>
<rect x="593" y="232" width="5" height="9" fill="#000"/>
<rect x="603" y="238" width="1" height="21" fill="#000"/>
<rect x="601" y="240" width="5" height="4" fill="#000"/>
<rect x="611" y="227" width="1" height="36" fill="#000"/>
<rect x="609" y="243" width="5" height="11" fill="#000"/>
<rect x="619" y="238" width="1" height="27" fill="#000"/>
<rect x="617" y="253" width="5" height="2" fill="#000"/>
<rect x="627" y="237" width="1" height="21" fill="#000"/>
<rect x="625" y="254" width="5" height="2" fill="#000"/>
<rect x="635" y="254" width="1" height="9" fill="#000"/>
<rect x="633" y="255" width="5" height="8" fill="#000"/>
<rect x="643" y="256" width="1" height="32" fill="#000"/>
<rect x="641" y="261" width="5" height="20" fill="#000"/>
<rect x="651" y="275" width="1" height="26" fill="#000"/>
<rect x="649" y="280" width="5" height="16" fill="#000"/>
<rect x="659" y="284" width="1" height="20" fill="#000"/>
<rect x="657" y="291" width="5" height="5" fill="#000"/>
<rect x="658" y="292" width="3" height="3" fill="#fff"/>
<rect x="667" y="251" width="1" height="44" fill="#000"/>
<rect x="665" y="268" width="5" height="24" fill="#000"/>
<rect x="666" y="269" width="3" height="22" fill="#fff"/>
<rect x="675" y="240" width="1" height="32" fill="#000"/>
<rect x="673" y="248" width="5" height="21" fill="#000"/>
<rect x="674" y="249" width="3" height="19" fill="#fff"/>
<rect x="683" y="241" width="1" height="10" fill="#000"/>
<rect x="681" y="247" width="5" height="2" fill="#000"/>
<rect x="691" y="242" width="1" height="13" fill="#000"/>
<rect x="689" y="243" width="5" height="5" fill="#000"/>
<rect x="690" y="244" width="3" height="3" fill="#fff"/>
<rect x="699" y="233" width="1" height="27" fill="#000"/>
<rect x="697" y="244" width="5" height="7" fill="#000"/>
<rect x="707" y="229" width="1" height="23" fill="#000"/>
<rect x="705" y="229" width="5" height="22" fill="#000"/>
<rect x="706" y="230" width="3" height="20" fill="#fff"/>
<rect x="715" y="220" width="1" height="68" fill="#000"/>
<rect x="713" y="229" width="5" height="52" fill="#000"/>
<rect x="723" y="274" width="1" height="24" fill="#000"/>
<rect x="721" y="280" width="5" height="11" fill="#000"/>
<rect x="731" y="283" width="1" height="14" fill="#000"/>
<rect x="729" y="288" width="5" height="3" fill="#000"/>
<rect x="730" y="289" width="3" height="1" fill="#fff"/>
<rect x="739" y="287" width="1" height="15" fill="#000"/>
<rect x="737" y="288" width="5" height="8" fill="#000"/>
<rect x="747" y="284" width="1" height="18" fill="#000"/>
<rect x="745" y="289" width="5" height="7" fill="#000"/>
<rect x="746" y="290" width="3" height="5" fill="#fff"/>
<rect x="755" y="275" width="1" height="16" fill="#000"/>
<rect x="753" y="282" width="5" height="8" fill="#000"/>
<rect x="754" y="283" width="3" height="6" fill="#fff"/>
<rect x="763" y="280" width="1" height="64" fill="#000"/>
<rect x="761" y="282" width="5" height="46" fill="#000"/>
<rect x="771" y="323" width="1" height="22" fill="#000"/>
<rect x="769" y="327" width="5" height="15" fill="#000"/>
<rect x="779" y="333" width="1" height="11" fill="#000"/>
<rect x="777" y="340" width="5" height="2" fill="#000"/>
<rect x="787" y="318" width="1" height="33" fill="#000"/>
<rect x="785" y="319" width="5" height="22" fill="#000"/>
<rect x="786" y="320" width="3" height="20" fill="#fff"/>
<rect x="795" y="295" width="1" height="29" fill="#000"/>
<rect x="793" y="298" width="5" height="22" fill="#000"/>
<rect x="794" y="299" width="3" height="20" fill="#fff"/>
<rect x="803" y="296" width="1" height="17" fill="#000"/>
<rect x="801" y="298" width="5" height="14" fill="#000"/>
<rect x="811" y="304" width="1" height="42" fill="#000"/>
<rect x="809" y="311" width="5" height="22" fill="#000"/>
<rect x="819" y="321" width="1" height="14" fill="#000"/>
<rect x="817" y="322" width="5" height="11" fill="#000"/>
<rect x="818" y="323" width="3" height="9" fill="#fff"/>
<rect x="827" y="321" width="1" height="5" fill="#000"/>
<rect x="825" y="322" width="5" height="2" fill="#000"/>
<rect x="835" y="325" width="1" height="13" fill="#000"/>
<rect x="833" y="332" width="5" height="3" fill="#000"/>
<rect x="834" y="333" width="3" height="1" fill="#fff"/>
<rect x="843" y="325" width="1" height="17" fill="#000"/>
<rect x="841" y="327" width="5" height="6" fill="#000"/>
<rect x="842" y="328" width="3" height="4" fill="#fff"/>
<rect x="851" y="318" width="1" height="14" fill="#000"/>
<rect x="849" y="327" width="5" height="4" fill="#000"/>
<rect x="859" y="324" width="1" height="16" fill="#000"/>
<rect x="857" y="325" width="5" height="6" fill="#000"/>
<rect x="858" y="326" width="3" height="4" fill="#fff"/>
<rect x="867" y="315" width="1" height="15" fill="#000"/>
<rect x="865" y="324" width="5" height="3" fill="#000"/>
<rect x="875" y="326" width="1" height="9" fill="#000"/>
<rect x="873" y="326" width="5" height="9" fill="#000"/>
<rect x="883" y="330" width="1" height="9" fill="#000"/>
<rect x="881" y="331" width="5" height="7" fill="#000"/>
<rect x="891" y="323" width="1" height="21" fill="#000"/>
<rect x="889" y="337" width="5" height="7" fill="#000"/>
<rect x="899" y="335" width="1" height="29" fill="#000"/>
<rect x="897" y="335" width="5" height="9" fill="#000"/>
<rect x="898" y="336" width="3" height="7" fill="#fff"/>
<rect x="907" y="286" width="1" height="52" fill="#000"/>
<rect x="905" y="287" width="5" height="49" fill="#000"/>
<rect x="906" y="288" width="3" height="47" fill="#fff"/>
<rect x="915" y="282" width="1" height="31" fill="#000"/>
<rect x="913" y="282" width="5" height="6" fill="#000"/>
<rect x="914" y="283" width="3" height="4" fill="#fff"/>
<rect x="923" y="278" width="1" height="17" fill="#000"/>
<rect x="921" y="282" width="5" height="6" fill="#000"/>
<rect x="931" y="287" width="1" height="7" fill="#000"/>
<rect x="929" y="287" width="5" height="6" fill="#000"/>
<rect x="939" y="287" width="1" height="19" fill="#000"/>
<rect x="937" y="292" width="5" height="2" fill="#000"/>
<rect x="947" y="274" width="1" height="26" fill="#000"/>
<rect x="945" y="293" width="5" height="6" fill="#000"/>
<rect x="955" y="286" width="1" height="16" fill="#000"/>
<rect x="953" y="287" width="5" height="12" fill="#000"/>
<rect x="954" y="288" width="3" height="10" fill="#fff"/>
<rect x="963" y="248" width="1" height="41" fill="#000"/>
<rect x="961" y="265" width="5" height="23" fill="#000"/>
<rect x="962" y="266" width="3" height="21" fill="#fff"/>
<rect x="971" y="263" width="1" height="19" fill="#000"/>
<rect x="969" y="265" width="5" height="15" fill="#000"/>
<rect x="979" y="269" width="1" height="14" fill="#000"/>
<rect x="977" y="271" width="5" height="9" fill="#000"/>
<rect x="978" y="272" width="3" height="7" fill="#fff"/>
<rect x="987" y="268" width="1" height="15" fill="#000"/>
<rect x="985" y="271" width="5" height="6" fill="#000"/>
<rect x="995" y="272" width="1" height="30" fill="#000"/>
<rect x="993" y="276" width="5" height="25" fill="#000"/>
<rect x="1003" y="265" width="1" height="42" fill="#000"/>
<rect x="1001" y="266" width="5" height="35" fill="#000"/>
<rect x="1002" y="267" width="3" height="33" fill="#fff"/>
<rect x="1011" y="226" width="1" height="66" fill="#000"/>
<rect x="1009" y="229" width="5" height="39" fill="#000"/>
<rect x="1010" y="230" width="3" height="37" fill="#fff"/>
<rect x="1019" y="227" width="1" height="20" fill="#000"/>
<rect x="1017" y="229" width="5" height="11" fill="#000"/>
<rect x="1027" y="239" width="1" height="7" fill="#000"/>
<rect x="1025" y="239" width="5" height="4" fill="#000"/>
<rect x="1035" y="241" width="1" height="9" fill="#000"/>
<rect x="1033" y="242" width="5" height="6" fill="#000"/>
</g>
<g clip-path="url(#cs)">
<line x1="4" y1="402.5" x2="1052" y2="402.5" stroke="#c0c0c0" stroke-width="1" stroke-dasharray="3 3"/>
<line x1="4" y1="480.5" x2="1052" y2="480.5" stroke="#c0c0c0" stroke-width="1" stroke-dasharray="3 3"/>
<polyline points="3.5,432.00 11.5,442.75 19.5,454.00 27.5,454.50 35.5,448.50 43.5,436.50 51.5,430.75 59.5,439.00 67.5,456.50 75.5,468.50 83.5,470.25 91.5,465.25 99.5,458.50 107.5,450.25 115.5,437.75 123.5,422.75 131.5,417.00 139.5,421.50 147.5,437.75 155.5,444.00 163.5,437.00 171.5,426.00 179.5,414.50 187.5,410.25 195.5,406.50 203.5,408.50 211.5,420.25 219.5,442.00 227.5,462.00 235.5,471.50 243.5,467.75 251.5,464.50 259.5,459.00 267.5,462.50 275.5,464.50 283.5,476.50 291.5,486.00 299.5,492.00 307.5,492.25 315.5,487.75 323.5,476.00 331.5,462.00 339.5,452.75 347.5,448.50 355.5,442.75 363.5,436.50 371.5,427.75 379.5,429.00 387.5,432.75 395.5,442.75 403.5,450.25 411.5,458.50 419.5,469.00 427.5,480.25 435.5,489.00 443.5,491.00 451.5,489.50 459.5,487.75 467.5,486.00 475.5,477.00 483.5,466.50 491.5,455.25 499.5,455.25 507.5,462.75 515.5,476.50 523.5,486.00 531.5,487.75 539.5,484.00 547.5,471.50 555.5,455.25 563.5,437.75 571.5,424.00 579.5,416.00 587.5,410.25 595.5,406.00 603.5,405.25 611.5,415.00 619.5,435.00 627.5,457.00 635.5,474.00 643.5,482.75 651.5,489.00 659.5,491.50 667.5,484.50 675.5,464.00 683.5,434.00 691.5,407.75 699.5,395.25 707.5,392.75 715.5,407.75 723.5,430.25 731.5,464.00 739.5,484.00 747.5,494.00 755.5,490.25 763.5,482.75 771.5,477.75 779.5,480.25 787.5,484.00 795.5,475.25 803.5,456.50 811.5,438.50 819.5,432.75 827.5,440.25 835.5,448.50 843.5,453.50 851.5,456.00 859.5,451.50 867.5,442.75 875.5,436.00 883.5,444.50 891.5,464.50 899.5,474.00 907.5,460.25 915.5,425.00 923.5,397.00 931.5,387.00 939.5,389.00 947.5,400.25 955.5,414.00 963.5,425.25 971.5,432.00 979.5,432.75 987.5,436.00 995.5,444.50 1003.5,451.00 1011.5,443.50 1019.5,420.25 1027.5,400.25 1035.5,396.00" fill="none" stroke="#ff0000" stroke-width="1" stroke-dasharray="3 3"/>
<polyline points="3.5,447.75 11.5,456.50 19.5,458.50 27.5,450.25 35.5,436.50 43.5,421.00 51.5,436.50 59.5,459.00 67.5,474.75 75.5,471.50 83.5,464.50 91.5,461.00 99.5,451.50 107.5,439.00 115.5,422.75 123.5,406.00 131.5,421.50 139.5,437.75 147.5,452.75 155.5,442.75 163.5,415.75 171.5,419.00 179.5,409.00 187.5,406.00 195.5,404.75 203.5,414.00 211.5,442.75 219.5,470.25 227.5,474.75 235.5,470.25 243.5,457.75 251.5,466.50 259.5,451.50 267.5,468.50 275.5,472.75 283.5,491.20 291.5,491.20 299.5,492.20 307.5,491.20 315.5,477.75 323.5,457.75 331.5,449.75 339.5,449.75 347.5,446.50 355.5,434.00 363.5,429.00 371.5,421.00 379.5,436.50 387.5,441.00 395.5,452.00 403.5,457.00 411.5,465.25 419.5,482.75 427.5,492.00 435.5,493.00 443.5,487.00 451.5,489.00 459.5,486.00 467.5,483.50 475.5,461.50 483.5,454.50 491.5,446.00 499.5,461.50 507.5,476.00 515.5,492.75 523.5,489.00 531.5,486.00 539.5,475.25 547.5,457.00 555.5,436.50 563.5,421.00 571.5,415.25 579.5,411.50 587.5,403.50 595.5,402.75 603.5,407.75 611.5,431.50 619.5,465.25 627.5,474.00 635.5,482.75 643.5,489.50 651.5,495.75 659.5,491.00 667.5,470.25 675.5,432.75 683.5,399.00 691.5,389.00 699.5,395.25 707.5,392.75 715.5,434.50 723.5,464.00 731.5,494.50 739.5,496.00 747.5,492.75 755.5,482.75 763.5,472.00 771.5,476.50 779.5,492.00 787.5,484.00 795.5,456.50 803.5,427.00 811.5,428.50 819.5,440.25 827.5,451.50 835.5,452.75 843.5,457.00 851.5,457.75 859.5,438.50 867.5,429.75 875.5,439.00 883.5,464.00 891.5,492.00 899.5,469.00 907.5,417.75 915.5,390.25 923.5,381.50 931.5,387.00 939.5,397.75 947.5,414.00 955.5,429.50 963.5,433.00 971.5,431.50 979.5,431.50 987.5,441.50 995.5,461.00 1003.5,450.25 1011.5,419.00 1019.5,388.50 1027.5,393.50 1035.5,404.00" fill="none" stroke="#20b2aa" stroke-width="1"/>
</g>
<polygon points="3,502 3,507 8,507" fill="#c0c0c0"/>
<rect x="2" y="2" width="1051" height="1" fill="#000"/>
<rect x="2" y="372" width="1051" height="1" fill="#000"/>
<rect x="2" y="2" width="1" height="371" fill="#000"/>
<rect x="1052" y="2" width="1" height="371" fill="#000"/>
<rect x="2" y="374" width="1051" height="1" fill="#000"/>
<rect x="2" y="507" width="1051" height="1" fill="#000"/>
<rect x="2" y="374" width="1" height="134" fill="#000"/>
<rect x="1052" y="374" width="1" height="134" fill="#000"/>
<rect x="1053" y="6" width="2" height="1" fill="#000"/>
<rect x="1053" y="39" width="2" height="1" fill="#000"/>
<rect x="1053" y="72" width="2" height="1" fill="#000"/>
<rect x="1053" y="105" width="2" height="1" fill="#000"/>
<rect x="1053" y="138" width="2" height="1" fill="#000"/>
<rect x="1053" y="171" width="2" height="1" fill="#000"/>
<rect x="1053" y="204" width="2" height="1" fill="#000"/>
<rect x="1053" y="237" width="2" height="1" fill="#000"/>
<rect x="1053" y="270" width="2" height="1" fill="#000"/>
<rect x="1053" y="303" width="2" height="1" fill="#000"/>
<rect x="1053" y="336" width="2" height="1" fill="#000"/>
<rect x="1053" y="369" width="2" height="1" fill="#000"/>
<rect x="1053" y="376" width="1" height="1" fill="#000"/>
<rect x="1053" y="506" width="1" height="1" fill="#000"/>
<rect x="3" y="508" width="1" height="3" fill="#000"/>
<rect x="67" y="508" width="1" height="3" fill="#000"/>
<rect x="131" y="508" width="1" height="3" fill="#000"/>
<rect x="195" y="508" width="1" height="3" fill="#000"/>
<rect x="259" y="508" width="1" height="3" fill="#000"/>
<rect x="323" y="508" width="1" height="3" fill="#000"/>
<rect x="387" y="508" width="1" height="3" fill="#000"/>
<rect x="451" y="508" width="1" height="3" fill="#000"/>
<rect x="515" y="508" width="1" height="3" fill="#000"/>
<rect x="579" y="508" width="1" height="3" fill="#000"/>
<rect x="643" y="508" width="1" height="3" fill="#000"/>
<rect x="707" y="508" width="1" height="3" fill="#000"/>
<rect x="771" y="508" width="1" height="3" fill="#000"/>
<rect x="835" y="508" width="1" height="3" fill="#000"/>
<rect x="899" y="508" width="1" height="3" fill="#000"/>
<rect x="963" y="508" width="1" height="3" fill="#000"/>
<rect x="1027" y="508" width="1" height="3" fill="#000"/>
<rect x="1054" y="162" width="41" height="11" fill="#0000ff"/>
<rect x="1054" y="215" width="41" height="11" fill="#0000ff"/>
<rect x="1054" y="242" width="41" height="11" fill="#000"/>
<rect x="1054" y="272" width="41" height="11" fill="#ff0000"/>
<rect x="1054" y="305" width="41" height="11" fill="#ff0000"/>
<rect x="6" y="9" width="7" height="1" fill="#000"/>
<rect x="7" y="10" width="5" height="1" fill="#000"/>
<rect x="8" y="11" width="3" height="1" fill="#000"/>
<rect x="9" y="12" width="1" height="1" fill="#000"/>
</g>
<text x="1058" y="9.8" fill="#000" stroke="#000" stroke-width="0.05" font-size="9.7" textLength="33.5" lengthAdjust="spacingAndGlyphs">2064.95</text>
<text x="1058" y="42.8" fill="#000" stroke="#000" stroke-width="0.05" font-size="9.7" textLength="33.5" lengthAdjust="spacingAndGlyphs">2052.70</text>
<text x="1058" y="75.8" fill="#000" stroke="#000" stroke-width="0.05" font-size="9.7" textLength="33.5" lengthAdjust="spacingAndGlyphs">2040.45</text>
<text x="1058" y="108.8" fill="#000" stroke="#000" stroke-width="0.05" font-size="9.7" textLength="33.5" lengthAdjust="spacingAndGlyphs">2028.20</text>
<text x="1058" y="141.8" fill="#000" stroke="#000" stroke-width="0.05" font-size="9.7" textLength="33.5" lengthAdjust="spacingAndGlyphs">2015.95</text>
<text x="1058" y="174.8" fill="#000" stroke="#000" stroke-width="0.05" font-size="9.7" textLength="33.5" lengthAdjust="spacingAndGlyphs">2003.70</text>
<text x="1058" y="207.8" fill="#000" stroke="#000" stroke-width="0.05" font-size="9.7" textLength="33.5" lengthAdjust="spacingAndGlyphs">1991.10</text>
<text x="1058" y="240.8" fill="#000" stroke="#000" stroke-width="0.05" font-size="9.7" textLength="33.5" lengthAdjust="spacingAndGlyphs">1978.85</text>
<text x="1058" y="273.8" fill="#000" stroke="#000" stroke-width="0.05" font-size="9.7" textLength="33.5" lengthAdjust="spacingAndGlyphs">1966.60</text>
<text x="1058" y="306.8" fill="#000" stroke="#000" stroke-width="0.05" font-size="9.7" textLength="33.5" lengthAdjust="spacingAndGlyphs">1954.35</text>
<text x="1058" y="339.8" fill="#000" stroke="#000" stroke-width="0.05" font-size="9.7" textLength="33.5" lengthAdjust="spacingAndGlyphs">1942.10</text>
<text x="1058" y="372.8" fill="#000" stroke="#000" stroke-width="0.05" font-size="9.7" textLength="33.5" lengthAdjust="spacingAndGlyphs">1929.85</text>
<g shape-rendering="crispEdges">
<rect x="1054" y="162" width="41" height="11" fill="#0000ff"/>
<rect x="1054" y="272" width="41" height="11" fill="#ff0000"/>
<rect x="1054" y="305" width="41" height="11" fill="#ff0000"/>
</g>
<text x="1058" y="171" fill="#fff" stroke="#fff" stroke-width="0.05" font-size="9.7" textLength="33.5" lengthAdjust="spacingAndGlyphs">2004.65</text>
<text x="1058" y="224" fill="#fff" stroke="#fff" stroke-width="0.05" font-size="9.7" textLength="33.5" lengthAdjust="spacingAndGlyphs">1984.92</text>
<text x="1058" y="251" fill="#fff" stroke="#fff" stroke-width="0.05" font-size="9.7" textLength="33.5" lengthAdjust="spacingAndGlyphs">1975.13</text>
<text x="1058" y="281" fill="#fff" stroke="#fff" stroke-width="0.05" font-size="9.7" textLength="33.5" lengthAdjust="spacingAndGlyphs">1963.75</text>
<text x="1058" y="314" fill="#fff" stroke="#fff" stroke-width="0.05" font-size="9.7" textLength="33.5" lengthAdjust="spacingAndGlyphs">1951.36</text>
<text x="1056" y="385" fill="#000" stroke="#000" stroke-width="0.05" font-size="9.7" textLength="15" lengthAdjust="spacingAndGlyphs">100</text>
<text x="1055" y="406" fill="#000" stroke="#000" stroke-width="0.05" font-size="9.7" textLength="10" lengthAdjust="spacingAndGlyphs">80</text>
<text x="1055" y="484" fill="#000" stroke="#000" stroke-width="0.05" font-size="9.7" textLength="10" lengthAdjust="spacingAndGlyphs">20</text>
<text x="1056" y="504" fill="#000" stroke="#000" stroke-width="0.05" font-size="9.7" textLength="5" lengthAdjust="spacingAndGlyphs">0</text>
<text x="17.9" y="14" fill="#000" stroke="#000" stroke-width="0.05" font-size="9.7" textLength="68" lengthAdjust="spacingAndGlyphs">XAUUSDecn,H4</text>
<text x="92" y="14" fill="#000" stroke="#000" stroke-width="0.05" font-size="9.7" textLength="33.5" lengthAdjust="spacingAndGlyphs">1977.03</text>
<text x="128" y="14" fill="#000" stroke="#000" stroke-width="0.05" font-size="9.7" textLength="33.5" lengthAdjust="spacingAndGlyphs">1977.52</text>
<text x="164" y="14" fill="#000" stroke="#000" stroke-width="0.05" font-size="9.7" textLength="33.5" lengthAdjust="spacingAndGlyphs">1974.46</text>
<text x="200" y="14" fill="#000" stroke="#000" stroke-width="0.05" font-size="9.7" textLength="33.5" lengthAdjust="spacingAndGlyphs">1975.13</text>
<text x="7" y="387" fill="#000" stroke="#000" stroke-width="0.05" font-size="9.7" textLength="122" lengthAdjust="spacingAndGlyphs">Stoch(5,3,3) 78.5466 85.0132</text>
<text x="2" y="520" fill="#000" stroke="#000" stroke-width="0.05" font-size="9.7" textLength="50" lengthAdjust="spacingAndGlyphs">4 May 2023</text>
<text x="66" y="520" fill="#000" stroke="#000" stroke-width="0.05" font-size="9.7" textLength="53.5" lengthAdjust="spacingAndGlyphs">5 May 12:00</text>
<text x="130" y="520" fill="#000" stroke="#000" stroke-width="0.05" font-size="9.7" textLength="53.5" lengthAdjust="spacingAndGlyphs">8 May 16:00</text>
<text x="194" y="520" fill="#000" stroke="#000" stroke-width="0.05" font-size="9.7" textLength="57.8" lengthAdjust="spacingAndGlyphs">10 May 00:00</text>
<text x="258" y="520" fill="#000" stroke="#000" stroke-width="0.05" font-size="9.7" textLength="57.8" lengthAdjust="spacingAndGlyphs">11 May 08:00</text>
<text x="322" y="520" fill="#000" stroke="#000" stroke-width="0.05" font-size="9.7" textLength="57.8" lengthAdjust="spacingAndGlyphs">12 May 16:00</text>
<text x="386" y="520" fill="#000" stroke="#000" stroke-width="0.05" font-size="9.7" textLength="57.8" lengthAdjust="spacingAndGlyphs">15 May 20:00</text>
<text x="450" y="520" fill="#000" stroke="#000" stroke-width="0.05" font-size="9.7" textLength="57.8" lengthAdjust="spacingAndGlyphs">17 May 04:00</text>
<text x="514" y="520" fill="#000" stroke="#000" stroke-width="0.05" font-size="9.7" textLength="57.8" lengthAdjust="spacingAndGlyphs">18 May 12:00</text>
<text x="578" y="520" fill="#000" stroke="#000" stroke-width="0.05" font-size="9.7" textLength="57.8" lengthAdjust="spacingAndGlyphs">19 May 20:00</text>
<text x="642" y="520" fill="#000" stroke="#000" stroke-width="0.05" font-size="9.7" textLength="57.8" lengthAdjust="spacingAndGlyphs">23 May 00:00</text>
<text x="706" y="520" fill="#000" stroke="#000" stroke-width="0.05" font-size="9.7" textLength="57.8" lengthAdjust="spacingAndGlyphs">24 May 08:00</text>
<text x="770" y="520" fill="#000" stroke="#000" stroke-width="0.05" font-size="9.7" textLength="57.8" lengthAdjust="spacingAndGlyphs">25 May 16:00</text>
<text x="834" y="520" fill="#000" stroke="#000" stroke-width="0.05" font-size="9.7" textLength="57.8" lengthAdjust="spacingAndGlyphs">28 May 22:00</text>
<text x="898" y="520" fill="#000" stroke="#000" stroke-width="0.05" font-size="9.7" textLength="57.8" lengthAdjust="spacingAndGlyphs">30 May 04:00</text>
<text x="962" y="520" fill="#000" stroke="#000" stroke-width="0.05" font-size="9.7" textLength="57.8" lengthAdjust="spacingAndGlyphs">31 May 12:00</text>
<text x="1026" y="520" fill="#000" stroke="#000" stroke-width="0.05" font-size="9.7" textLength="47.5" lengthAdjust="spacingAndGlyphs">1 Jun 20:00</text>
</svg></body></html>
